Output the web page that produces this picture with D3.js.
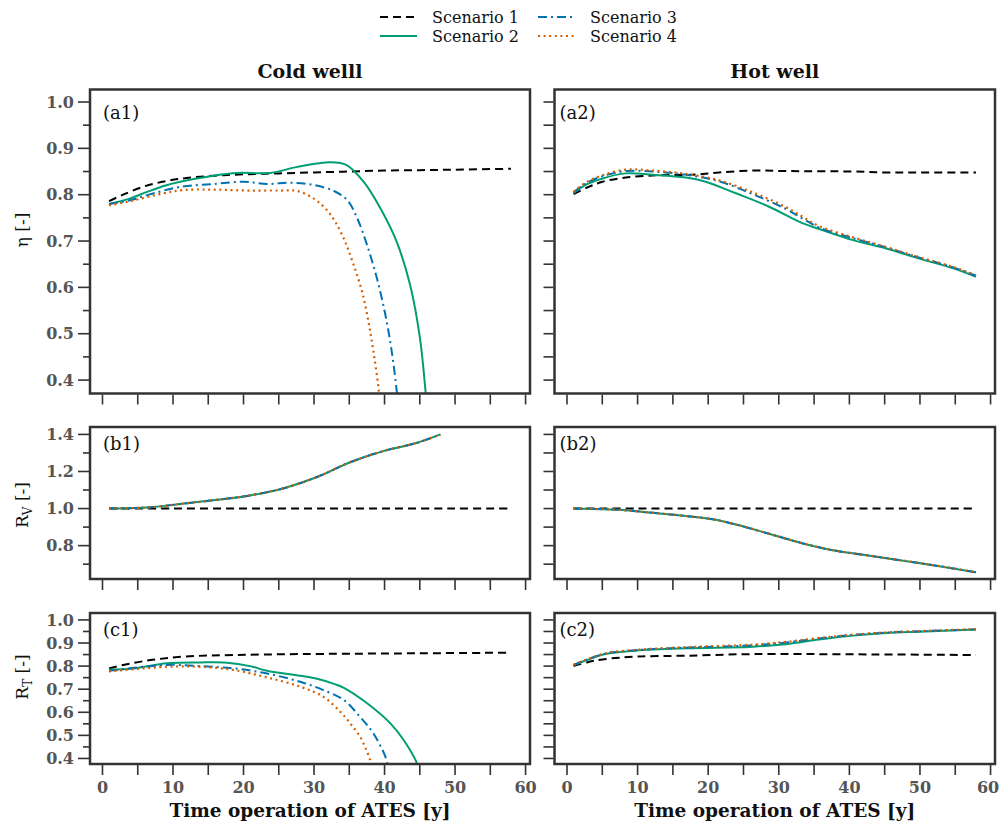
<!DOCTYPE html>
<html>
<head>
<meta charset="utf-8">
<script src="https://cdn.jsdelivr.net/npm/d3@7"></script>
<style>
  html, body { margin: 0; padding: 0; background: #fff; }
  svg { display: block; }
</style>
</head>
<body>
<svg id="chart" width="999" height="828"></svg>
<script>
// ---------------- DATA ----------------
const scenarioNames = ["Scenario 1", "Scenario 2", "Scenario 3", "Scenario 4"];
const columnTitles = ["Cold welll", "Hot well"];
const panelLabels = [["(a1)", "(a2)"], ["(b1)", "(b2)"], ["(c1)", "(c2)"]];
const xTickValues = [0, 5, 10, 15, 20, 25, 30, 35, 40, 45, 50, 55, 60];
const xLabelValues = [0, 10, 20, 30, 40, 50, 60];
const etaTicks = [0.4, 0.5, 0.6, 0.7, 0.8, 0.9, 1.0];
const rvTicks = [0.8, 1.0, 1.2, 1.4];
const rtTicks = [0.4, 0.5, 0.6, 0.7, 0.8, 0.9, 1.0];

// (a1) efficiency, cold well  [year, value]
const etaColdS1 = [[1,0.786],[3,0.800],[6,0.818],[9,0.829],[12,0.836],[16,0.841],[20,0.844],[25,0.846],[30,0.848],[35,0.850],[40,0.852],[45,0.853],[50,0.854],[58,0.856]];
const etaColdS2 = [[1,0.780],[4,0.792],[6.4,0.806],[9,0.820],[11.1,0.828],[15.8,0.841],[19.1,0.847],[23.9,0.847],[27.7,0.860],[32.4,0.870],[34.7,0.864],[37.1,0.828],[39.5,0.770],[41.8,0.698],[43.7,0.605],[45.1,0.490],[45.9,0.374],[46.2,0.330]];
const etaColdS3 = [[1,0.780],[4,0.788],[6.4,0.799],[11.1,0.817],[15.8,0.823],[20.1,0.828],[23.4,0.823],[26.7,0.826],[30.0,0.821],[32.9,0.808],[34.8,0.788],[36.2,0.749],[37.6,0.691],[39.0,0.619],[40.2,0.540],[41.1,0.461],[41.8,0.376],[42.0,0.340]];
const etaColdS4 = [[1,0.777],[4,0.786],[8.7,0.803],[11.6,0.810],[15.8,0.811],[20.6,0.809],[25.3,0.809],[27.7,0.808],[30.0,0.792],[31.7,0.770],[33.1,0.741],[34.5,0.698],[35.7,0.648],[36.9,0.590],[37.8,0.525],[38.5,0.461],[39.2,0.385],[39.4,0.350]];

// (a2) efficiency, hot well
const etaHotS1 = [[1,0.801],[3,0.816],[5.1,0.828],[8.4,0.837],[13.1,0.842],[17.8,0.843],[21.6,0.848],[26.4,0.852],[31.1,0.851],[40.6,0.850],[45.3,0.848],[50,0.848],[58,0.848]];
const etaHotS2 = [[1,0.803],[2.7,0.821],[5.1,0.835],[8.4,0.846],[12.2,0.843],[16.9,0.837],[19.7,0.828],[24.0,0.803],[28.7,0.774],[33.5,0.738],[35.8,0.726],[40.6,0.702],[45.3,0.684],[50,0.662],[54.8,0.641],[58,0.623]];
const etaHotS3 = [[1,0.805],[2.7,0.824],[5.1,0.840],[8.4,0.851],[12.2,0.850],[16.9,0.843],[21.6,0.829],[26.4,0.801],[31.1,0.769],[33.5,0.748],[35.8,0.729],[40.6,0.706],[45.3,0.686],[50,0.664],[54.8,0.643],[58,0.625]];
const etaHotS4 = [[1,0.806],[2.7,0.826],[5.1,0.842],[8.4,0.854],[12.2,0.852],[16.9,0.845],[21.6,0.831],[26.4,0.805],[31.1,0.773],[33.5,0.752],[35.8,0.732],[40.6,0.708],[45.3,0.687],[50,0.665],[54.8,0.644],[58,0.626]];

// (b1) volume ratio, cold well
const rvColdS1 = [[1,1.0],[10,1.0],[20,1.0],[30,1.0],[40,1.0],[50,1.0],[58,1.0]];
const rvColdS234 = [[1,1.0],[6.9,1.007],[11.6,1.027],[16.3,1.047],[21.0,1.071],[25.8,1.110],[30.5,1.170],[35.2,1.250],[39.9,1.310],[44.7,1.355],[48.0,1.400]];

// (b2) volume ratio, hot well
const rvHotS1 = [[1,1.0],[10,1.0],[20,1.0],[30,1.0],[40,1.0],[50,1.0],[58,1.0]];
const rvHotS234 = [[1,1.0],[7.4,0.993],[12.2,0.977],[16.9,0.960],[20.7,0.942],[24.0,0.914],[28.7,0.864],[33.5,0.812],[38.2,0.772],[42.9,0.746],[47.7,0.719],[52.4,0.692],[58,0.656]];

// (c1) temperature ratio, cold well
const rtColdS1 = [[1,0.790],[3,0.805],[6.9,0.826],[11.6,0.841],[18.7,0.848],[28.1,0.852],[42.3,0.855],[58,0.858]];
const rtColdS2 = [[1,0.785],[4.5,0.790],[9.2,0.812],[13.9,0.816],[17.7,0.815],[21.0,0.800],[23.4,0.780],[28.1,0.758],[30.5,0.745],[33.0,0.722],[34.3,0.706],[37.6,0.639],[40.9,0.552],[42.8,0.479],[44.7,0.378],[45.0,0.350]];
const rtColdS3 = [[1,0.780],[9.2,0.805],[13.9,0.800],[18.7,0.790],[23.4,0.768],[28.1,0.732],[31.4,0.696],[34.3,0.653],[36.6,0.580],[38.5,0.508],[40.2,0.407],[40.6,0.360]];
const rtColdS4 = [[1,0.777],[9.2,0.797],[13.9,0.797],[18.7,0.783],[23.4,0.751],[28.1,0.711],[31.4,0.667],[33.8,0.602],[35.2,0.552],[36.6,0.494],[37.6,0.429],[38.1,0.385],[38.3,0.350]];

// (c2) temperature ratio, hot well
const rtHotS1 = [[1,0.800],[3,0.817],[5.1,0.829],[9.8,0.841],[16.9,0.845],[26.4,0.852],[40.6,0.851],[58,0.848]];
const rtHotS2 = [[1,0.804],[2.7,0.824],[5.5,0.852],[9.8,0.867],[16.9,0.877],[26.4,0.884],[31.1,0.895],[35.8,0.915],[40.6,0.932],[45.3,0.943],[50,0.949],[58,0.958]];
const rtHotS3 = [[1,0.805],[2.7,0.826],[5.5,0.854],[9.8,0.869],[16.9,0.880],[26.4,0.890],[31.1,0.902],[35.8,0.920],[40.6,0.935],[45.3,0.945],[50,0.951],[58,0.959]];
const rtHotS4 = [[1,0.806],[2.7,0.827],[5.5,0.855],[9.8,0.870],[16.9,0.882],[26.4,0.893],[31.1,0.905],[35.8,0.922],[40.6,0.936],[45.3,0.946],[50,0.952],[58,0.960]];

// ---------------- STYLE / LAYOUT ----------------
const colors = ["#000000", "#009E73", "#0072B2", "#D55E00"];
const dashes = ["8,5", null, "9,4,2,4", "2,3.6"];
const widths = [2, 2, 2, 2.2];
const serif = "'DejaVu Serif', 'Liberation Serif', serif";

const colX = [[90, 530], [554.5, 995]];
const rowY = [[89.5, 393.5], [427, 579], [613, 764]];
const xDomain = [-1.7, 60.7];
const yDomains = [[0.371, 1.027], [0.62, 1.44], [0.376, 1.03]];
const yMajorTicks = [etaTicks, rvTicks, rtTicks];
const yMinorStep = [0.05, 0.1, 0.05];

const panelSeries = [
  [[etaColdS1, etaColdS2, etaColdS3, etaColdS4], [etaHotS1, etaHotS2, etaHotS3, etaHotS4]],
  [[rvColdS1, rvColdS234, rvColdS234, rvColdS234], [rvHotS1, rvHotS234, rvHotS234, rvHotS234]],
  [[rtColdS1, rtColdS2, rtColdS3, rtColdS4], [rtHotS1, rtHotS2, rtHotS3, rtHotS4]]
];

const svg = d3.select("#chart");
const frameColor = "#333333";
const tickLabelColor = "#555555";

function fmt(v) { return d3.format(".1f")(v); }

for (let r = 0; r < 3; r++) {
  for (let c = 0; c < 2; c++) {
    const [x0, x1] = colX[c];
    const [y0, y1] = rowY[r];
    const x = d3.scaleLinear().domain(xDomain).range([x0, x1]);
    const y = d3.scaleLinear().domain(yDomains[r]).range([y1, y0]);
    const g = svg.append("g");
    const clipId = `clip-${r}-${c}`;
    svg.append("clipPath").attr("id", clipId)
      .append("rect").attr("x", x0).attr("y", y0).attr("width", x1 - x0).attr("height", y1 - y0);

    // lines
    const line = d3.line().x(d => x(d[0])).y(d => y(d[1])).curve(d3.curveCatmullRom.alpha(0.5));
    const lg = g.append("g").attr("clip-path", `url(#${clipId})`);
    panelSeries[r][c].forEach((data, i) => {
      lg.append("path").datum(data)
        .attr("d", line)
        .attr("fill", "none")
        .attr("stroke", colors[i])
        .attr("stroke-width", widths[i])
        .attr("stroke-dasharray", dashes[i])
        .attr("stroke-linecap", "butt");
    });

    // x axis ticks
    const xAxis = d3.axisBottom(x).tickValues(xTickValues).tickSize(10).tickSizeOuter(0)
      .tickFormat(v => (r === 2 && xLabelValues.includes(v)) ? d3.format("d")(v) : "");
    const xg = g.append("g").attr("transform", `translate(0,${y1 + 1})`).call(xAxis);
    xg.select(".domain").remove();
    xg.selectAll(".tick line").attr("stroke", frameColor).attr("stroke-width", 1.6);
    xg.selectAll(".tick text").attr("font-family", serif).attr("font-weight", "bold")
      .attr("font-size", 16).attr("fill", tickLabelColor).attr("dy", "1.05em").attr("y", 11)
      .attr("dx", v => (c === 1 && v === 60) ? -2.5 : 0);

    // y axis ticks
    const [d0, d1] = yDomains[r];
    const step = yMinorStep[r];
    const allTicks = d3.range(Math.ceil(d0 / step - 1e-6), Math.floor(d1 / step + 1e-6) + 1).map(k => +(k * step).toFixed(3));
    const majors = yMajorTicks[r];
    const isMajor = v => majors.some(m => Math.abs(m - v) < 1e-6);
    const yg = g.append("g");
    allTicks.forEach(v => {
      const len = (c === 1) ? 10 : (isMajor(v) ? 11 : 6);
      yg.append("line")
        .attr("x1", x0 - 1 - len).attr("x2", x0 - 1)
        .attr("y1", y(v)).attr("y2", y(v))
        .attr("stroke", frameColor).attr("stroke-width", 1.6);
      if (c === 0 && isMajor(v)) {
        yg.append("text")
          .attr("x", x0 - 16).attr("y", y(v)).attr("dy", "0.36em")
          .attr("text-anchor", "end")
          .attr("font-family", serif).attr("font-weight", "bold").attr("font-size", 16)
          .attr("fill", tickLabelColor)
          .text(fmt(v));
      }
    });

    // frame
    g.append("rect").attr("x", x0).attr("y", y0).attr("width", x1 - x0).attr("height", y1 - y0)
      .attr("fill", "none").attr("stroke", frameColor).attr("stroke-width", 2.5);

    // panel label
    const lblX = c === 0 ? x0 + 13 : x0 + 5;
    const lblY = [119, 450, 636][r];
    g.append("text").attr("x", lblX).attr("y", lblY)
      .attr("font-family", serif).attr("font-size", 18).attr("fill", "#111")
      .text(panelLabels[r][c]);
  }
}

// column titles and x-axis titles
columnTitles.forEach((t, c) => {
  svg.append("text").attr("x", (colX[c][0] + colX[c][1]) / 2).attr("y", 78)
    .attr("text-anchor", "middle").attr("font-family", serif).attr("font-weight", "bold")
    .attr("font-size", 19).attr("fill", "#111").text(t);
  svg.append("text").attr("x", (colX[c][0] + colX[c][1]) / 2).attr("y", 817)
    .attr("text-anchor", "middle").attr("font-family", serif).attr("font-weight", "bold")
    .attr("font-size", 18.5).attr("fill", "#111").text("Time operation of ATES [y]");
});

// y labels
function yLabel(cy, main, sub) {
  const t = svg.append("text")
    .attr("transform", `translate(28,${cy}) rotate(-90)`)
    .attr("text-anchor", "middle").attr("font-family", serif).attr("font-size", 17).attr("fill", "#111");
  t.append("tspan").text(main);
  if (sub) {
    t.append("tspan").attr("font-size", 12).attr("dy", 4).text(sub);
    t.append("tspan").attr("dy", -4).text(" [-]");
  } else {
    t.append("tspan").text(" [-]");
  }
}
yLabel(230, "η", null);
yLabel(505, "R", "V");
yLabel(677, "R", "T");

// legend
const legendItems = [
  { i: 0, lx: 380, ly: 17 }, { i: 1, lx: 380, ly: 36 },
  { i: 2, lx: 538, ly: 17 }, { i: 3, lx: 538, ly: 36 }
];
legendItems.forEach(({ i, lx, ly }) => {
  svg.append("line").attr("x1", lx).attr("x2", lx + 37).attr("y1", ly).attr("y2", ly)
    .attr("stroke", colors[i]).attr("stroke-width", widths[i])
    .attr("stroke-dasharray", dashes[i]);
  svg.append("text").attr("x", lx + 52).attr("y", ly).attr("dy", "0.35em")
    .attr("font-family", serif).attr("font-size", 16).attr("fill", "#111")
    .text(scenarioNames[i]);
});
</script>
</body>
</html>
